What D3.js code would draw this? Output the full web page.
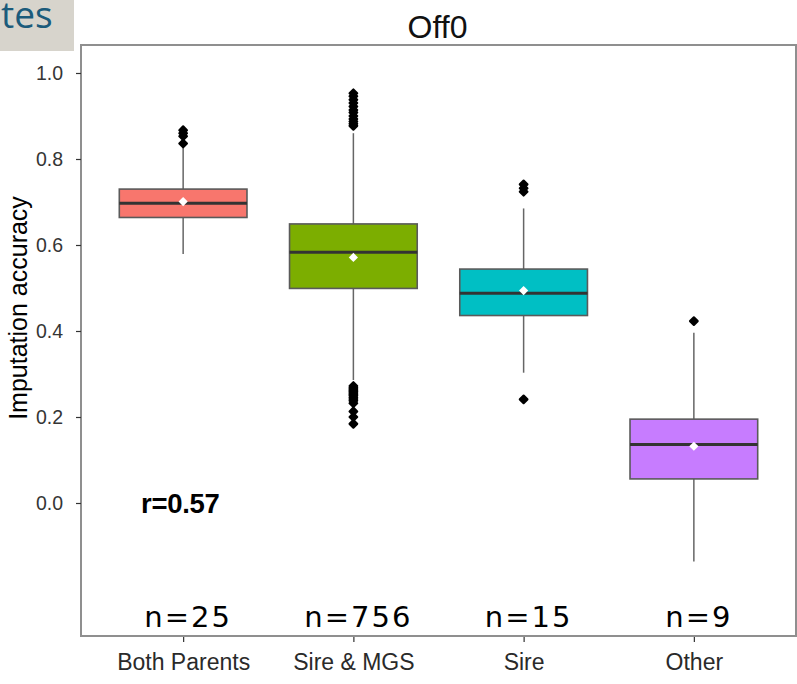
<!DOCTYPE html>
<html>
<head>
<meta charset="utf-8">
<script src="https://cdn.jsdelivr.net/npm/d3@7"></script>
<style>
  html, body { margin: 0; padding: 0; background: #fff; }
  svg { display: block; }
</style>
</head>
<body>
<svg id="chart" width="797" height="684"></svg>
<script>
// Imputation accuracy of Off0 animals by which relatives are genotyped
const categories = ["Both Parents", "Sire & MGS", "Sire", "Other"];
const colors     = ["#F8766D", "#7CAE00", "#00BFC4", "#C77CFF"];
const counts     = [25, 756, 15, 9];

// box summaries per category
const q1       = [0.664, 0.499, 0.436, 0.056];
const medians  = [0.697, 0.583, 0.488, 0.136];
const q3       = [0.730, 0.649, 0.544, 0.195];
const whiskLo  = [0.579, 0.286, 0.303, -0.136];
const whiskHi  = [0.826, 0.860, 0.685, 0.396];
const means    = [0.701, 0.571, 0.494, 0.132];

// points beyond the whiskers
const outliers = [
  [0.867, 0.860, 0.853, 0.836],
  [0.953, 0.946, 0.938, 0.930, 0.922, 0.914, 0.908, 0.900, 0.893, 0.887, 0.882, 0.877,
   0.272, 0.268, 0.265, 0.262, 0.259, 0.256, 0.253, 0.250, 0.246, 0.242, 0.238, 0.232,
   0.213, 0.200, 0.184],
  [0.741, 0.732, 0.724, 0.241],
  [0.423]
];

const yTicks = [0.0, 0.2, 0.4, 0.6, 0.8, 1.0];
const titleText = "Off0";
const yTitle = "Imputation accuracy";
const corrLabel = "r=0.57";

const svg = d3.select("#chart");
const panel = { left: 81, top: 45, right: 796, bottom: 636 };
const sans = "'Liberation Sans', Arial, sans-serif";
const narrow = "'Liberation Sans Narrow', 'Arial Narrow', 'Liberation Sans', sans-serif";

// corner tab from the surrounding slide
svg.append("rect").attr("x", 0).attr("y", 0).attr("width", 74).attr("height", 51)
  .attr("fill", "#d7d4cc");
svg.append("text").attr("x", 1).attr("y", 28)
  .attr("font-family", "'Open Sans', sans-serif").attr("font-size", 37)
  .attr("fill", "#1b5b7b").text("tes");

const x = d3.scalePoint().domain(categories)
  .range([panel.left, panel.right]).padding(0.6);
const y = d3.scaleLinear().domain([-0.3093, 1.0651])
  .range([panel.bottom, panel.top]);
const boxW = x.step() * 0.75;

// panel background + frame
svg.append("rect")
  .attr("x", panel.left).attr("y", panel.top)
  .attr("width", panel.right - panel.left).attr("height", panel.bottom - panel.top)
  .attr("fill", "#fff").attr("stroke", "#8f8f8f").attr("stroke-width", 2);

// axes
const yAxis = svg.append("g").attr("transform", `translate(${panel.left},0)`)
  .call(d3.axisLeft(y).tickValues(yTicks).tickFormat(d3.format(".1f"))
    .tickSize(5).tickPadding(13));
yAxis.select(".domain").remove();
yAxis.selectAll("line").attr("stroke", "#333").attr("stroke-width", 1.2);
yAxis.selectAll("text").attr("font-family", sans)
  .attr("font-size", 19.5).attr("fill", "#353535");

const xAxis = svg.append("g").attr("transform", `translate(0,${panel.bottom + 1})`)
  .call(d3.axisBottom(x).tickSize(5).tickPadding(12));
xAxis.select(".domain").remove();
xAxis.selectAll("line").attr("stroke", "#333").attr("stroke-width", 1.2);
xAxis.selectAll("text").attr("font-family", narrow)
  .attr("font-size", 23).attr("fill", "#2a2a2a");

// titles
svg.append("text").attr("x", (panel.left + panel.right) / 2 - 1).attr("y", 38)
  .attr("text-anchor", "middle")
  .attr("font-family", sans).attr("font-size", 32)
  .attr("fill", "#111").text(titleText);
svg.append("text")
  .attr("transform", `translate(27,${(y(0) + y(1)) / 2 + 20}) rotate(-90)`)
  .attr("text-anchor", "middle")
  .attr("font-family", narrow).attr("font-size", 25)
  .attr("fill", "#000").text(yTitle);

// boxes
const diamond = r => `M0,${-r}L${r},0L0,${r}L${-r},0Z`;
const g = svg.append("g");
categories.forEach((c, i) => {
  const cx = x(c);
  const grp = g.append("g");
  grp.append("line").attr("x1", cx).attr("x2", cx)
    .attr("y1", y(q3[i])).attr("y2", y(whiskHi[i]))
    .attr("stroke", "#666").attr("stroke-width", 1.5);
  grp.append("line").attr("x1", cx).attr("x2", cx)
    .attr("y1", y(q1[i])).attr("y2", y(whiskLo[i]))
    .attr("stroke", "#666").attr("stroke-width", 1.5);
  grp.append("rect")
    .attr("x", cx - boxW / 2).attr("y", y(q3[i]))
    .attr("width", boxW).attr("height", y(q1[i]) - y(q3[i]))
    .attr("fill", colors[i]).attr("stroke", "#5a5a5a").attr("stroke-width", 1.6);
  grp.append("line")
    .attr("x1", cx - boxW / 2).attr("x2", cx + boxW / 2)
    .attr("y1", y(medians[i])).attr("y2", y(medians[i]))
    .attr("stroke", "#333").attr("stroke-width", 3);
  grp.selectAll("path.out").data(outliers[i]).join("path")
    .attr("class", "out")
    .attr("transform", d => `translate(${cx},${y(d)})`)
    .attr("d", diamond(3.8)).attr("fill", "#000")
    .attr("stroke", "#000").attr("stroke-width", 2.2).attr("stroke-linejoin", "round");
  grp.append("path")
    .attr("transform", `translate(${cx},${y(means[i])})`)
    .attr("d", diamond(4.6)).attr("fill", "#fff");
});

// sample sizes
svg.selectAll("text.n").data(categories).join("text")
  .attr("class", "n")
  .attr("x", c => x(c) + 5).attr("y", 627)
  .attr("text-anchor", "middle")
  .attr("font-family", "'DejaVu Sans', sans-serif").attr("font-size", 29)
  .attr("letter-spacing", 2).attr("fill", "#000")
  .text((c, i) => "n=" + counts[i]);

// correlation annotation
svg.append("text").attr("x", 141).attr("y", 513)
  .attr("font-family", sans).attr("font-weight", "bold")
  .attr("font-size", 27.5).attr("letter-spacing", -0.3).attr("fill", "#000")
  .text(corrLabel);
</script>
</body>
</html>
